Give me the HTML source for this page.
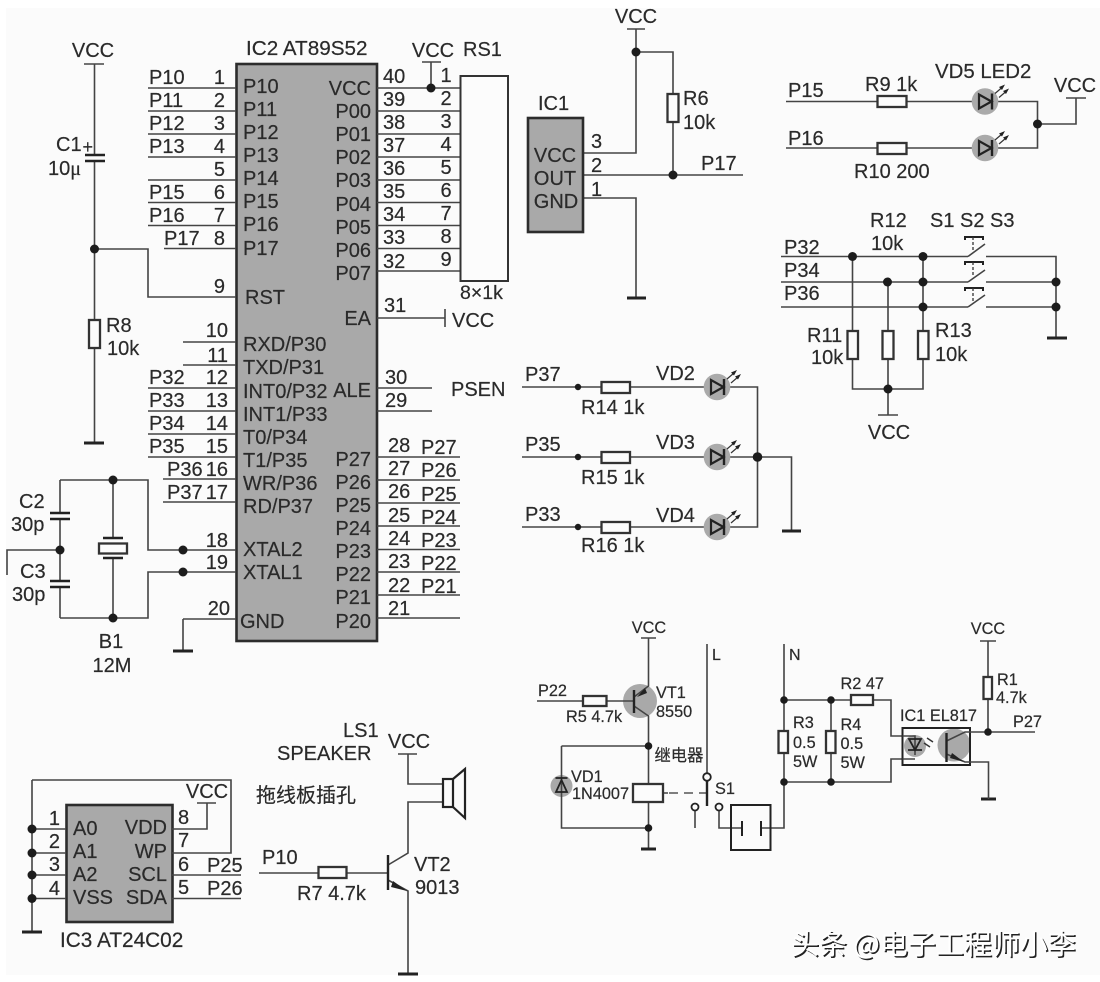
<!DOCTYPE html>
<html><head><meta charset="utf-8"><style>
html,body{margin:0;padding:0;background:#fff;width:1100px;height:982px;overflow:hidden}
svg{display:block}
text{font-family:"Liberation Sans","Noto Sans CJK SC",sans-serif;font-size:20px;fill:#2a2a2a;stroke:#2a2a2a;stroke-width:.2}
.s{font-size:16.3px}
.m{text-anchor:middle}
.e{text-anchor:end}
.w{fill:none;stroke:#444;stroke-width:1.6}
.r{fill:#fcfcfc;stroke:#333;stroke-width:2.3}
.g{fill:none;stroke:#222;stroke-width:3}
.d{fill:#1c1c1c;stroke:none}
.b{fill:#a9a9a9;stroke:#2c2c2c;stroke-width:2.6}
</style></head><body>
<svg width="1100" height="982" viewBox="0 0 1100 982" xmlns="http://www.w3.org/2000/svg">
<defs>
<g id="led">
<circle cx="0" cy="0" r="13.3" fill="#aaaaaa"/>
<path d="M-6,-7V7L6.500,0Z" fill="none" stroke="#222" stroke-width="2.200"/>
<path d="M7,-8V8" stroke="#222" stroke-width="2.400" fill="none"/>
<path d="M10,-8L17,-14M14,-4L21,-10" stroke="#333" stroke-width="1.200" fill="none"/>
<path d="M20,-17L14,-14.500L17,-11.500ZM24,-13L18,-10.500L21,-7.500Z" fill="#222"/>
</g>
</defs>
<rect x="0" y="0" width="1100" height="982" fill="#fff"/>
<rect x="6" y="8" width="1094" height="967" fill="#fbfbfb"/>

<!-- IC2 -->
<rect class="b" x="236.500" y="64" width="140.500" height="577"/>
<path class="w" d="M148,88H236M148,111H236M148,134H236M148,157H236M148,180H236M148,202.500H236M148,225.500H236M164,248.500H236
M94.500,249H148V297H236M183,342H236M183,365H236M148,388H236M148,411H236M148,434H236M148,457H236M163,479H236M163,502H236
M60,480H148V550H236M60,618H148V572H236M183,619H236M183,619V651M7,575V550H60
M377,88H460M377,111H460M377,134H460M377,157H460M377,180H460M377,202.500H460M377,225.500H460M377,248.500H460M377,271H460
M431,62V88M422,62H441M377,318H445M445,309V327M377,388H432M377,411H432
M377,457H460M377,480H460M377,503H460M377,526H460M377,549.500H460M377,572H460M377,595H460M377,618H460"/>
<text x="246" y="55" style="font-size:20.700px">IC2 AT89S52</text>
<g>
<text x="149" y="84">P10</text><text x="149" y="107">P11</text><text x="149" y="130">P12</text><text x="149" y="153">P13</text>
<text x="149" y="199">P15</text><text x="149" y="222">P16</text><text x="164" y="245">P17</text>
<text x="149" y="384">P32</text><text x="149" y="407">P33</text><text x="149" y="430">P34</text><text x="149" y="453">P35</text>
<text x="167" y="476">P36</text><text x="167" y="499">P37</text>
</g>
<g>
<text class="e" x="225" y="84">1</text><text class="e" x="225" y="107">2</text><text class="e" x="225" y="130">3</text><text class="e" x="225" y="153">4</text><text class="e" x="225" y="176">5</text><text class="e" x="225" y="199">6</text><text class="e" x="225" y="222">7</text><text class="e" x="225" y="245">8</text><text class="e" x="225" y="293">9</text><text class="e" x="228" y="337">10</text><text class="e" x="228" y="362">11</text><text class="e" x="228" y="384">12</text><text class="e" x="228" y="407">13</text><text class="e" x="228" y="430">14</text><text class="e" x="228" y="453">15</text><text class="e" x="228" y="476">16</text><text class="e" x="228" y="499">17</text><text class="e" x="228" y="547">18</text><text class="e" x="228" y="569">19</text><text class="e" x="230" y="615">20</text>
</g>
<text x="243" y="93">P10</text><text x="243" y="116">P11</text><text x="243" y="139">P12</text><text x="243" y="162">P13</text><text x="243" y="185">P14</text><text x="243" y="208">P15</text><text x="243" y="231">P16</text><text x="243" y="255">P17</text>
<text x="245" y="304">RST</text><text x="243" y="351">RXD/P30</text><text x="243" y="374">TXD/P31</text><text x="243" y="398">INT0/P32</text><text x="243" y="421">INT1/P33</text><text x="243" y="444">T0/P34</text><text x="243" y="467">T1/P35</text><text x="243" y="490">WR/P36</text><text x="243" y="513">RD/P37</text><text x="243" y="556">XTAL2</text><text x="243" y="579">XTAL1</text><text x="240" y="628">GND</text>
<text class="e" x="371" y="95">VCC</text><text class="e" x="371" y="118">P00</text><text class="e" x="371" y="141">P01</text><text class="e" x="371" y="164">P02</text><text class="e" x="371" y="187">P03</text><text class="e" x="371" y="211">P04</text><text class="e" x="371" y="234">P05</text><text class="e" x="371" y="257">P06</text><text class="e" x="371" y="280">P07</text>
<text class="e" x="371" y="325">EA</text><text class="e" x="371" y="397">ALE</text>
<text class="e" x="371" y="466">P27</text><text class="e" x="371" y="489">P26</text><text class="e" x="371" y="512">P25</text><text class="e" x="371" y="535">P24</text><text class="e" x="371" y="558">P23</text><text class="e" x="371" y="581">P22</text><text class="e" x="371" y="604">P21</text><text class="e" x="371" y="628">P20</text>
<text x="383" y="83">40</text><text x="383" y="106">39</text><text x="383" y="129">38</text><text x="383" y="152">37</text><text x="383" y="175">36</text><text x="383" y="198">35</text><text x="383" y="221">34</text><text x="383" y="244">33</text><text x="383" y="268">32</text>
<text x="384" y="312">31</text><text x="385" y="384">30</text><text x="385" y="407">29</text>
<text x="388" y="452">28</text><text x="388" y="475">27</text><text x="388" y="498">26</text><text x="388" y="522">25</text><text x="388" y="545">24</text><text x="388" y="568">23</text><text x="388" y="592">22</text><text x="388" y="615">21</text>
<text x="421" y="454">P27</text><text x="421" y="477">P26</text><text x="421" y="501">P25</text><text x="421" y="524">P24</text><text x="421" y="547">P23</text><text x="421" y="570">P22</text><text x="421" y="593">P21</text>
<text class="m" x="446" y="82">1</text><text class="m" x="446" y="105">2</text><text class="m" x="446" y="128">3</text><text class="m" x="446" y="151">4</text><text class="m" x="446" y="174">5</text><text class="m" x="446" y="197">6</text><text class="m" x="446" y="220">7</text><text class="m" x="446" y="243">8</text><text class="m" x="446" y="266">9</text>
<rect x="460.500" y="76" width="47.500" height="205" fill="#fcfcfc" stroke="#333" stroke-width="2"/>
<text class="m" x="433" y="57">VCC</text><text x="463" y="56">RS1</text><text x="460" y="299" style="font-size:19.500px">8×1k</text>
<text x="452" y="327">VCC</text><text x="451" y="396">PSEN</text>
<circle class="d" cx="431" cy="88" r="4.500"/>

<!-- C1 R8 -->
<path class="w" d="M94.500,64V155M94.500,161V320M94.500,348V443M84,64H104"/>
<path class="g" style="stroke-width:2.500" d="M85,155H105M85,161H105"/>
<path class="g" d="M84,443H104"/>
<rect class="r" x="89" y="320" width="11" height="28"/>
<circle class="d" cx="94.500" cy="249" r="4.500"/>
<text class="m" x="93" y="57">VCC</text><text x="56" y="151">C1</text><text x="82.500" y="153" style="font-size:18px">+</text>
<text x="48" y="175">10<tspan style="font-family:'Liberation Serif',serif">μ</tspan></text>
<text x="106" y="332">R8</text><text x="107" y="355">10k</text>

<!-- crystal -->
<path class="w" d="M60,480V513M60,519V581M60,587V618M113,480V538M113,558V618"/>
<path class="g" style="stroke-width:2.500" d="M50,513H70M50,519H70M50,581H70M50,587H70M103,538H123M103,558H123"/>
<rect class="r" x="99" y="543.500" width="28" height="10"/>
<path class="g" d="M173,651H193"/>
<circle class="d" cx="113" cy="480" r="4.500"/><circle class="d" cx="113" cy="618" r="4.500"/><circle class="d" cx="60" cy="550" r="4.500"/><circle class="d" cx="183" cy="550" r="4.500"/><circle class="d" cx="183" cy="572" r="4.500"/>
<text x="19" y="508">C2</text><text x="11" y="531">30p</text><text x="20" y="578">C3</text><text x="12" y="601">30p</text>
<text class="m" x="111" y="648">B1</text><text class="m" x="112" y="672">12M</text>

<!-- IC1 sensor -->
<path class="w" d="M583,153H636V29M627,29H645M636,52H673V94M673,122V175M583,175H743M583,198H636V298"/>
<rect class="b" x="528" y="118" width="55" height="114"/>
<rect class="r" x="667.500" y="94" width="11" height="28"/>
<path class="g" d="M627,298H646"/>
<circle class="d" cx="636" cy="52" r="4.500"/><circle class="d" cx="673" cy="175" r="4.500"/>
<text class="m" x="636" y="23">VCC</text><text x="538" y="110">IC1</text>
<text class="m" x="555" y="162">VCC</text><text class="m" x="555" y="185">OUT</text><text class="m" x="556" y="208">GND</text>
<text x="591" y="148">3</text><text x="591" y="172">2</text><text x="591" y="196">1</text>
<text x="683" y="105">R6</text><text x="683" y="129">10k</text><text x="701" y="170">P17</text>

<!-- VD5 -->
<path class="w" d="M786,101.500H1037.500V148H786M1037.500,124H1076V98M1066,98H1086"/>
<rect class="r" x="877.500" y="96" width="29" height="11"/>
<rect class="r" x="877.500" y="143" width="29" height="11"/>
<use href="#led" x="985" y="101.500"/><use href="#led" x="985" y="148"/>
<circle class="d" cx="1037.500" cy="124" r="4.500"/>
<text x="788" y="97">P15</text><text x="788" y="145">P16</text><text x="865" y="91">R9 1k</text><text x="935" y="78" style="font-size:20.400px">VD5 LED2</text><text class="m" x="1075" y="92">VCC</text><text x="854" y="178">R10 200</text>

<!-- switches -->
<path class="w" d="M781,256.500H968M781,282H968M781,307H968M986,256.500H1056V338M986,282H1056M986,307H1056
M852.500,256.500V389H923V359M888,282V389M923,256.500V331M888,389V415M878,415H898"/>
<path class="w" d="M968,256.500L985,244M968,282L985,270M968,307L985,295"/>
<path fill="none" stroke="#222" stroke-width="2" d="M965,240V237H983V240M965,265V262H983V265M965,291V288H983V291"/>
<path fill="none" stroke="#333" stroke-width="1.300" stroke-dasharray="3 2" d="M973,237V251M973,262V277M973,288V302"/>
<path class="g" d="M1047,338H1067"/>
<rect class="r" x="847.500" y="331" width="10.500" height="28"/><rect class="r" x="882.500" y="331" width="11" height="28"/><rect class="r" x="918" y="331" width="10.500" height="28"/>
<circle class="d" cx="852.500" cy="256.500" r="4.500"/><circle class="d" cx="923" cy="256.500" r="4.500"/><circle class="d" cx="887.500" cy="282" r="4.500"/><circle class="d" cx="923" cy="282" r="4.500"/><circle class="d" cx="923" cy="307" r="4.500"/><circle class="d" cx="1056" cy="282" r="4.500"/><circle class="d" cx="1056" cy="307" r="4.500"/><circle class="d" cx="888" cy="389" r="4.500"/>
<text x="784" y="254">P32</text><text x="784" y="277">P34</text><text x="784" y="300">P36</text>
<text x="870" y="227">R12</text><text x="871" y="250">10k</text><text x="930" y="227">S1 S2 S3</text>
<text x="807" y="342">R11</text><text x="811" y="364">10k</text><text x="935" y="337">R13</text><text x="935" y="361">10k</text><text class="m" x="889" y="439">VCC</text>

<!-- VD2-4 -->
<path class="w" d="M522,387H757.500V527H522M522,457H791.500V531"/>
<rect class="r" x="601.500" y="382" width="28.500" height="11"/><rect class="r" x="601.500" y="452" width="28.500" height="11"/><rect class="r" x="601.500" y="522" width="28.500" height="11"/>
<use href="#led" x="717" y="387"/><use href="#led" x="717" y="457"/><use href="#led" x="717" y="527"/>
<circle class="d" cx="578" cy="387" r="3.200"/><circle class="d" cx="578" cy="457" r="3.200"/><circle class="d" cx="578" cy="527" r="3.200"/><circle class="d" cx="757.500" cy="457" r="4.800"/>
<path class="g" d="M782,531H801"/>
<text x="525" y="381">P37</text><text x="525" y="451">P35</text><text x="525" y="521">P33</text>
<text x="656" y="380">VD2</text><text x="656" y="449">VD3</text><text x="656" y="522">VD4</text>
<text x="581" y="414">R14 1k</text><text x="581" y="484">R15 1k</text><text x="581" y="552">R16 1k</text>

<!-- relay -->
<circle cx="640" cy="701" r="17" fill="#a9a9a9"/>
<circle cx="561.500" cy="786" r="11" fill="#a9a9a9"/>
<path class="w" d="M648.500,638V686L634,697M634,706L648.500,716V849M641,638H656M537,701H634M561.500,746H648.500M561.500,746V828H648.500M663,793H668"/>
<path fill="none" stroke="#555" stroke-width="1.600" stroke-dasharray="9 6" d="M669,793H706"/>
<path fill="none" stroke="#222" stroke-width="2.400" d="M634,690V713"/>
<path d="M637,697L645,688L647,693Z" fill="#222"/>
<rect class="r" x="583" y="696" width="23.500" height="10"/>
<rect class="r" x="633" y="784" width="30" height="18"/>
<path fill="none" stroke="#222" stroke-width="1.800" d="M555.500,778H567.500M556,792H567L561.500,780Z"/>
<path class="g" d="M641,849H656M981,799H996"/>
<circle class="d" cx="648.500" cy="746" r="3.800"/><circle class="d" cx="648.500" cy="828" r="3.800"/>
<text class="s" x="538" y="696">P22</text><text class="s" x="566" y="722">R5 4.7k</text><text class="s" x="656" y="698">VT1</text><text class="s" x="656" y="717">8550</text><text class="m s" x="649" y="633">VCC</text>
<text class="s" x="654.500" y="761">继电器</text><text class="s" x="571" y="782">VD1</text><text class="s" x="572" y="799">1N4007</text>
<path class="w" d="M707,644V773M695,811V828M719,811V828H742M761,828H784V644M784,700H851M873,700H891V736H902.500M784,782H891V759H902.500M784,700V731M784,753V828M831,700V731M831,753V782"/>
<path fill="none" stroke="#222" stroke-width="2.400" d="M707,781V806"/>
<circle cx="707" cy="777" r="3.800" fill="none" stroke="#222" stroke-width="1.800"/><circle cx="695" cy="807" r="3.500" fill="none" stroke="#222" stroke-width="1.800"/><circle cx="719" cy="807" r="3.500" fill="none" stroke="#222" stroke-width="1.800"/>
<rect x="731" y="805" width="39.500" height="45" fill="none" stroke="#222" stroke-width="2"/>
<path fill="none" stroke="#222" stroke-width="2" d="M742,821V836M761,821V836"/>
<rect class="r" x="778.500" y="731" width="9.500" height="22"/><rect class="r" x="826" y="731" width="9.500" height="22"/><rect class="r" x="851" y="695" width="22" height="10"/>
<circle class="d" cx="784" cy="700" r="3.800"/><circle class="d" cx="784" cy="782" r="3.800"/><circle class="d" cx="831" cy="700" r="3.800"/><circle class="d" cx="831" cy="782" r="3.800"/>
<text x="712" y="660" style="font-size:16px">L</text><text x="789" y="660" style="font-size:16px">N</text><text class="s" x="715" y="794">S1</text>
<text class="s" x="793" y="728">R3</text><text class="s" x="793" y="748">0.5</text><text class="s" x="793" y="767">5W</text>
<text class="s" x="840.500" y="730">R4</text><text class="s" x="840.500" y="749">0.5</text><text class="s" x="840.500" y="768">5W</text>
<text class="s" x="840.500" y="689">R2 47</text><text class="s" x="900" y="721">IC1 EL817</text>

<!-- opto -->
<circle cx="915" cy="746" r="11" fill="#a9a9a9"/><circle cx="954" cy="745" r="16.500" fill="#a9a9a9"/>
<rect x="902.500" y="728" width="67.500" height="37" fill="none" stroke="#222" stroke-width="2"/>
<path class="w" d="M902.500,736H915V755M902.500,759H915M946.500,741L965,732H1035M988,641V677M988,699V732M980,641H996M946.500,754L965,762H988.500V799"/>
<path fill="none" stroke="#222" stroke-width="1.800" d="M908,750H922M909,739H921L915,750Z"/>
<path fill="none" stroke="#222" stroke-width="2.400" d="M946.500,733V762"/>
<path d="M964,762L952,753L950,758Z" fill="#222"/>
<path d="M927,738L933,742M924,743L930,747" stroke="#333" stroke-width="1.500" fill="none"/>
<rect class="r" x="983.500" y="677" width="8.500" height="22"/>
<circle class="d" cx="988" cy="732" r="3.800"/>
<text class="m s" x="988" y="634">VCC</text><text class="s" x="997" y="685">R1</text><text class="s" x="996" y="703">4.7k</text><text class="s" x="1013" y="727">P27</text>

<!-- IC3 -->
<rect class="b" x="66.500" y="805" width="106" height="117"/>
<path class="w" d="M32,780V932M32,780H231V853H172M32,829H66M32,853H66M32,875H66M32,898.500H66M172,829H207V803M197,803H216M172,875H241M172,898.500H241"/>
<path class="g" d="M22,932H42"/>
<circle class="d" cx="32" cy="829" r="4.500"/><circle class="d" cx="32" cy="853" r="4.500"/><circle class="d" cx="32" cy="875" r="4.500"/><circle class="d" cx="32" cy="898.500" r="4.500"/>
<text class="e" x="60" y="825">1</text><text class="e" x="60" y="848">2</text><text class="e" x="60" y="871">3</text><text class="e" x="60" y="895">4</text>
<text x="73" y="835">A0</text><text x="73" y="858">A1</text><text x="73" y="881">A2</text><text x="73" y="904">VSS</text>
<text class="e" x="167" y="834">VDD</text><text class="e" x="167" y="858">WP</text><text class="e" x="167" y="881">SCL</text><text class="e" x="167" y="904">SDA</text>
<text x="178" y="824">8</text><text x="178" y="847">7</text><text x="178" y="871">6</text><text x="178" y="894">5</text>
<text x="207" y="872">P25</text><text x="207" y="895">P26</text><text class="m" x="207" y="798">VCC</text>
<text x="60" y="947" style="font-size:20.800px">IC3 AT24C02</text>
<text x="256" y="802">拖线板插孔</text>

<!-- speaker -->
<path class="w" d="M259,873H388M398,754H417M408,754V784H443M443,802H408V853L388,865M388,880L408,891V974"/>
<path fill="none" stroke="#222" stroke-width="2.400" d="M388,855V890"/>
<path d="M407,891L393,881L391,887Z" fill="#222"/>
<rect class="r" x="318.500" y="867" width="28" height="11"/>
<rect x="443" y="779" width="10" height="28" fill="none" stroke="#222" stroke-width="2.200"/>
<path fill="none" stroke="#222" stroke-width="2.200" d="M453,779L465,769V818L453,807"/>
<path class="g" d="M398,974H418"/>
<text x="343" y="737">LS1</text><text x="277" y="760">SPEAKER</text><text class="m" x="409" y="748">VCC</text>
<text x="262" y="864">P10</text><text x="297" y="900">R7 4.7k</text><text x="414" y="871">VT2</text><text x="415" y="894">9013</text>

<!-- watermark -->
<text x="792.500" y="955.500" style="font-size:28px;fill:#222;stroke:none;font-family:'Noto Sans CJK SC','Liberation Sans',sans-serif">头条 @电子工程师小李</text>
<text x="791" y="954" style="font-size:28px;fill:#fff;stroke:none;font-family:'Noto Sans CJK SC','Liberation Sans',sans-serif">头条 @电子工程师小李</text>
</svg>
</body></html>
